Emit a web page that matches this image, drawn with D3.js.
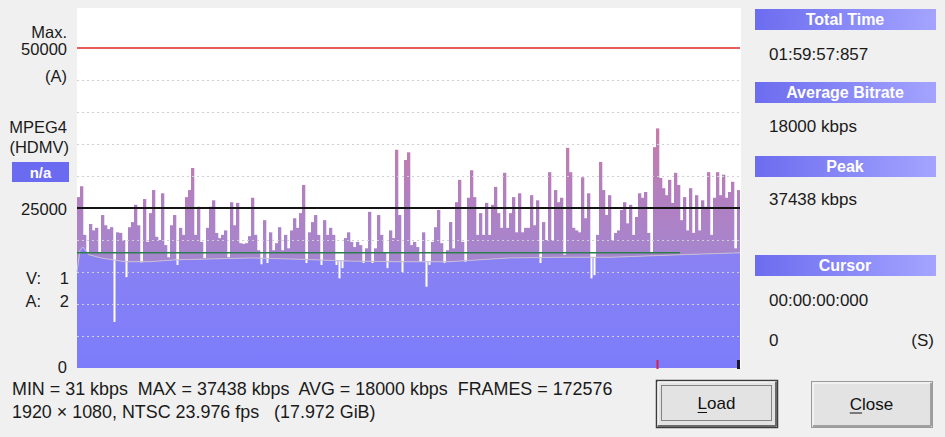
<!DOCTYPE html>
<html><head><meta charset="utf-8">
<script src="https://cdn.jsdelivr.net/npm/d3@7"></script>
<style>html,body{margin:0;padding:0;background:#f0f0f0;overflow:hidden} text{white-space:pre}</style>
</head><body><svg id="c" width="945" height="437"></svg>
<script>
// ---- data (kbps per time slice) ----
const bitrate = [
26700,28400,20800,18100,22500,21500,21900,18100,23900,22300,
21700,22000,7200,21200,21100,20000,14200,22000,22800,25500,
22300,16500,26400,19700,24200,27800,20500,20000,27300,19200,
17300,22300,23900,16100,21900,20800,26700,27800,31250,20800,
25200,19700,17200,21900,25200,26200,21100,20300,20800,21500,
17300,25900,22300,25800,19500,19400,19500,20600,26600,20800,
18400,16200,23100,16400,21200,18400,19500,22000,18400,20800,
18700,21500,23400,21900,24200,28600,16400,21200,22800,23900,
20800,16100,23100,20800,21900,20800,16100,14000,15600,20300,
21200,19700,18900,19700,19200,16400,18700,24400,16400,18700,
23900,20800,18100,15600,21500,20300,34100,23900,15000,32500,
33700,19200,19700,18900,16600,21200,12700,16100,19700,22000,
24700,19500,16400,18400,22800,18700,25900,29400,19700,16600,
26600,30900,26700,20800,24200,20800,25800,20800,25500,28300,
24200,21900,30500,21900,24200,26700,21200,27300,21200,21900,
21900,27000,22300,26200,16400,22800,20000,30600,20000,27800,
25900,26600,17700,34400,30600,21900,21500,21200,29800,23400,
27300,14000,14500,20800,32200,27800,23900,27000,20000,21100,
21500,24700,25900,22600,25500,20800,23600,27300,26600,27500,
21100,18100,34500,37438,29700,28100,27000,29400,25800,30500,
28600,23100,26700,21500,28100,21100,27000,21500,26200,25200,
30600,20800,26600,30600,27000,30200,26600,27500,29100,18700,
27800];
const runAvgIdx = [0,1,2,4,8,16,24,33,41,58,74,91,108,124,134,144,161,178,201,221];
const runAvgVal = [15000,18400,18900,17700,17200,16600,16600,16900,17000,17200,17000,16700,16600,16600,16900,17200,17300,17300,17700,18000];
const avgBitrate = 18000;
const avgLineEndIdx = 201;
const maxRef = 50000;
const midRef = 25000;
const gridTicks = [5000,10000,15000,20000,30000,35000,40000,45000];

const leftTop = ["Max.", "50000", "(A)"];
const codecLabels = ["MPEG4", "(HDMV)"];
const badge = "n/a";
const streamLabels = [["V:", "1"], ["A:", "2"]];
const panelHeaders = ["Total Time", "Average Bitrate", "Peak", "Cursor"];
const panelValues = ["01:59:57:857", "18000 kbps", "37438 kbps", "00:00:00:000"];
const cursorPos = ["0", "(S)"];
const statLine1 = "MIN = 31 kbps  MAX = 37438 kbps  AVG = 18000 kbps  FRAMES = 172576";
const statLine2 = "1920 \u00d7 1080, NTSC 23.976 fps   (17.972 GiB)";
const buttons = ["Load", "Close"];

// ---- drawing ----
const FONT = "'Liberation Sans', Arial, sans-serif";
const svg = d3.select("#c");
const PX0 = 77, PX1 = 740, PY0 = 8, PY1 = 368;
const N = bitrate.length;
const x = d3.scaleLinear().domain([0, N]).range([PX0, PX1]);
const y = d3.scaleLinear().domain([0, 56250]).range([PY1, PY0]);

const defs = svg.append("defs");
const gP = defs.append("linearGradient").attr("id","gp").attr("gradientUnits","userSpaceOnUse")
  .attr("x1",0).attr("x2",0).attr("y1",y(37500)).attr("y2",y(17000));
gP.append("stop").attr("offset",0).attr("stop-color","#c97ca8");
gP.append("stop").attr("offset",0.5).attr("stop-color","#b37fbf");
gP.append("stop").attr("offset",1).attr("stop-color","#a586cf");
const gB = defs.append("linearGradient").attr("id","gb").attr("gradientUnits","userSpaceOnUse")
  .attr("x1",0).attr("x2",0).attr("y1",y(18000)).attr("y2",y(0));
gB.append("stop").attr("offset",0).attr("stop-color","#8a82f3");
gB.append("stop").attr("offset",1).attr("stop-color","#7c7cfb");
const gH = defs.append("linearGradient").attr("id","gh").attr("x1",0).attr("x2",1);
gH.append("stop").attr("offset",0).attr("stop-color","#6c6cf0");
gH.append("stop").attr("offset",1).attr("stop-color","#a4a4ff");

const raPts = runAvgIdx.map((d,i)=>[d, runAvgVal[i]]);
const areaBelow = d3.area().x(d=>x(d[0])).y0(y(0)).y1(d=>y(d[1]));
const areaAbove = d3.area().x(d=>x(d[0])).y0(y(56250)).y1(d=>y(d[1]));
defs.append("clipPath").attr("id","cAbove").append("path").attr("d", areaAbove(raPts));
defs.append("clipPath").attr("id","cBelow").append("path").attr("d", areaBelow(raPts));

// plot background
svg.append("rect").attr("x",PX0).attr("y",PY0).attr("width",PX1-PX0+1).attr("height",PY1-PY0).attr("fill","#ffffff");

// blue running-average fill
svg.append("path").attr("d", areaBelow(raPts)).attr("fill","url(#gb)");

// purple bars above running average
svg.append("g").attr("clip-path","url(#cAbove)").selectAll("rect").data(bitrate).join("rect")
  .attr("x",(d,i)=>x(i)).attr("width",x(1)-x(0)+0.3)
  .attr("y",d=>y(d)).attr("height",d=>y(0)-y(d)).attr("fill","url(#gp)");
// white cut where bitrate below running average
svg.append("g").attr("clip-path","url(#cBelow)").selectAll("rect").data(bitrate).join("rect")
  .attr("x",(d,i)=>x(i)+0.5).attr("width",x(1)-x(0)-1)
  .attr("y",y(56250)).attr("height",d=>y(d)-y(56250)).attr("fill","#ffffff");

// running average line
svg.append("path").attr("d", d3.line().x(d=>x(d[0])).y(d=>y(d[1]))(raPts))
  .attr("fill","none").attr("stroke","#c9bcd6").attr("stroke-width",1);

// dotted grid
svg.append("g").selectAll("line").data(gridTicks).join("line")
  .attr("x1",PX0).attr("x2",PX1).attr("y1",d=>y(d)+0.5).attr("y2",d=>y(d)+0.5)
  .attr("stroke","#cfcfd8").attr("stroke-width",1).attr("stroke-dasharray","2,3");

// reference lines
svg.append("line").attr("x1",PX0).attr("x2",PX1).attr("y1",y(maxRef)).attr("y2",y(maxRef))
  .attr("stroke","#e02424").attr("stroke-width",1.5);
svg.append("line").attr("x1",PX0).attr("x2",PX1).attr("y1",y(midRef)).attr("y2",y(midRef))
  .attr("stroke","#141414").attr("stroke-width",2);
svg.append("line").attr("x1",PX0).attr("x2",x(avgLineEndIdx)).attr("y1",y(avgBitrate)).attr("y2",y(avgBitrate))
  .attr("stroke","#2f7d4f").attr("stroke-width",1.6);

// markers at bottom
const peakIdx = d3.maxIndex(bitrate);
svg.append("rect").attr("x",x(peakIdx+0.5)-1).attr("y",PY1-8).attr("width",2).attr("height",9).attr("fill","#d8204a");
svg.append("rect").attr("x",PX1-3).attr("y",PY1-8).attr("width",3).attr("height",9).attr("fill","#1a1a2a");

// left labels
const L = svg.append("g").attr("font-family",FONT).attr("font-size",16.5).attr("fill","#1a1a1a")
  .attr("text-anchor","end").attr("dominant-baseline","central");
L.append("text").attr("x",67).attr("y",32).text(leftTop[0]);
L.append("text").attr("x",67).attr("y",y(maxRef)+1).text(leftTop[1]);
L.append("text").attr("x",67).attr("y",76).text(leftTop[2]);
L.append("text").attr("x",67).attr("y",127).text(codecLabels[0]);
L.append("text").attr("x",69).attr("y",147).text(codecLabels[1]);
svg.append("rect").attr("x",12).attr("y",162).attr("width",57).attr("height",20).attr("fill","#6b6bf2");
svg.append("text").attr("x",40.5).attr("y",172).attr("text-anchor","middle").attr("dominant-baseline","central")
  .attr("font-family",FONT).attr("font-size",15).attr("font-weight","bold").attr("fill","#ffffff").text(badge);
L.append("text").attr("x",67).attr("y",y(midRef)+1).text("25000");
streamLabels.forEach((s,i)=>{
  L.append("text").attr("x",41).attr("y",278+i*23).text(s[0]);
  L.append("text").attr("x",69).attr("y",278+i*23).text(s[1]);
});
L.append("text").attr("x",67).attr("y",y(0)-1).text("0");

// right panel
const hdrY = [9, 82, 156, 255];
const valY = [54, 126, 199, 300];
panelHeaders.forEach((h,i)=>{
  svg.append("rect").attr("x",755).attr("y",hdrY[i]).attr("width",181).attr("height",21).attr("fill","url(#gh)");
  svg.append("text").attr("x",845).attr("y",hdrY[i]+10.5).attr("text-anchor","middle").attr("dominant-baseline","central")
    .attr("font-family",FONT).attr("font-size",16).attr("font-weight","bold").attr("fill","#ffffff").text(h);
  svg.append("text").attr("x",769).attr("y",valY[i]).attr("dominant-baseline","central")
    .attr("font-family",FONT).attr("font-size",17).attr("fill","#1a1a1a").text(panelValues[i]);
});
svg.append("text").attr("x",769).attr("y",340).attr("dominant-baseline","central")
  .attr("font-family",FONT).attr("font-size",17).attr("fill","#1a1a1a").text(cursorPos[0]);
svg.append("text").attr("x",934).attr("y",340).attr("text-anchor","end").attr("dominant-baseline","central")
  .attr("font-family",FONT).attr("font-size",17).attr("fill","#1a1a1a").text(cursorPos[1]);

// bottom stats
svg.append("text").attr("x",12).attr("y",389).attr("dominant-baseline","central").attr("xml:space","preserve")
  .attr("font-family",FONT).attr("font-size",17.9).attr("fill","#1a1a1a").text(statLine1);
svg.append("text").attr("x",12).attr("y",412).attr("dominant-baseline","central").attr("xml:space","preserve")
  .attr("font-family",FONT).attr("font-size",17.9).attr("fill","#1a1a1a").text(statLine2);

// buttons
function button(bx, by, w, h, label, isDefault){
  const g = svg.append("g");
  g.append("rect").attr("x",bx+0.5).attr("y",by+0.5).attr("width",w).attr("height",h)
    .attr("fill","#e3e3e3").attr("stroke", isDefault ? "#3c3c3c" : "#9a9a9a").attr("stroke-width", isDefault?1.5:1);
  g.append("line").attr("x1",bx+2).attr("x2",bx+w-1).attr("y1",by+h-1).attr("y2",by+h-1).attr("stroke", isDefault?"#6a6a6a":"#a0a0a0").attr("stroke-width",2);
  g.append("line").attr("x1",bx+w-1).attr("x2",bx+w-1).attr("y1",by+2).attr("y2",by+h-1).attr("stroke", isDefault?"#6a6a6a":"#a0a0a0").attr("stroke-width",2);
  g.append("line").attr("x1",bx+2).attr("x2",bx+w-2).attr("y1",by+2).attr("y2",by+2).attr("stroke","#ffffff").attr("stroke-width",1);
  g.append("line").attr("x1",bx+2).attr("x2",bx+2).attr("y1",by+2).attr("y2",by+h-2).attr("stroke","#ffffff").attr("stroke-width",1);
  if(isDefault){
    g.append("rect").attr("x",bx+5.5).attr("y",by+5.5).attr("width",w-11).attr("height",h-12)
      .attr("fill","none").attr("stroke","#222").attr("stroke-width",1).attr("stroke-dasharray","1,1");
  }
  const t = g.append("text").attr("x",bx+w/2).attr("y",by+h/2).attr("text-anchor","middle").attr("dominant-baseline","central")
    .attr("font-family",FONT).attr("font-size",17).attr("fill","#111").text(label);
  const bb = t.node().getBBox();
  const first = t.node().getSubStringLength(0,1);
  g.append("line").attr("x1",bb.x).attr("x2",bb.x+first).attr("y1",by+h/2+9).attr("y2",by+h/2+9).attr("stroke","#111").attr("stroke-width",1);
}
button(656, 380, 121, 47, buttons[0], true);
button(811, 381, 121, 46, buttons[1], false);
</script></body></html>
